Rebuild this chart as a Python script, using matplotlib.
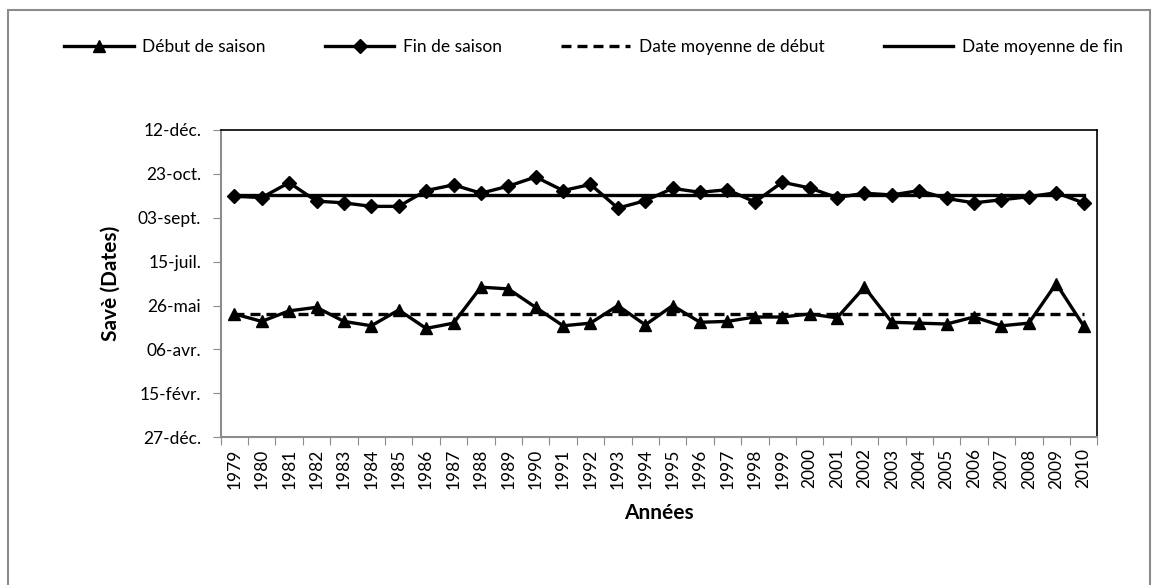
import numpy as np
import matplotlib.pyplot as plt
from matplotlib.patches import Rectangle

# years on the x axis
annees = [str(a) for a in range(1979, 2011)]

# dates as day of year (1 = 1 janv.)
debut = [136.5, 128, 140, 144, 128, 123, 141, 120, 126, 167, 165, 144,
         123, 126, 146, 124, 146, 127, 128, 133, 133, 136.5, 132, 167,
         127, 126, 125, 133, 123, 126, 171, 123]
fin = [270.5, 269, 286, 265, 263, 259, 259, 277, 283.5, 274, 282, 292.5,
       277, 284, 257, 265.5, 279.5, 275, 278, 264, 286.5, 280, 269, 274,
       272, 277, 268, 263, 266.5, 270, 274.5, 263]
moy_debut = 136.5
moy_fin = 272

# y ticks every 50 days, from 27-déc. to 12-déc.
y_ticks = [-4, 46, 96, 146, 196, 246, 296, 346]
y_labels = ["27-déc.", "15-févr.", "06-avr.", "26-mai", "15-juil.",
            "03-sept.", "23-oct.", "12-déc."]

plt.rcParams["font.family"] = ["Lato", "DejaVu Sans"]

fig = plt.figure(figsize=(11.57, 5.85), dpi=100)
ax = fig.add_axes([0.1907, 0.2525, 0.7577, 0.5253])

x = np.arange(len(annees))

l1, = ax.plot(x, debut, color="black", lw=2.4, marker="^", ms=9,
              label="Début de saison")
l2, = ax.plot(x, fin, color="black", lw=2.4, marker="D", ms=7,
              label="Fin de saison")
l3, = ax.plot([x[0], x[-1]], [moy_debut, moy_debut], color="black", lw=2.4,
              dashes=(3, 1.8), label="Date moyenne de début")
l4, = ax.plot([x[0], x[-1]], [moy_fin, moy_fin], color="black", lw=2.4,
              label="Date moyenne de fin")

ax.set_xlim(-0.5, len(annees) - 0.5)
ax.set_ylim(-4, 346)
ax.set_yticks(y_ticks)
ax.set_yticklabels(y_labels)

# category ticks sit between years, labels at the centres
ax.set_xticks(np.arange(-0.5, len(annees), 1.0))
ax.set_xticklabels([])
ax.set_xticks(x, minor=True)
ax.set_xticklabels(annees, minor=True, rotation=90)

ax.tick_params(axis="y", which="major", direction="out", length=6,
               color="#8c8c8c", labelsize=12.5, pad=8)
ax.tick_params(axis="x", which="major", direction="out", length=6,
               color="#8c8c8c")
ax.tick_params(axis="x", which="minor", length=0, labelsize=12.5, pad=8)

for s in ["left", "bottom"]:
    ax.spines[s].set_color("#8c8c8c")
    ax.spines[s].set_linewidth(1.5)
for s in ["top", "right"]:
    ax.spines[s].set_color("black")
    ax.spines[s].set_linewidth(1.2)

ax.set_ylabel("Savè (Dates)", fontsize=15, fontweight="bold", labelpad=12)
ax.set_xlabel("Années", fontsize=15, fontweight="bold", labelpad=10)

fig.legend(handles=[l1, l2, l3, l4], loc="center", ncol=4,
           bbox_to_anchor=(0.513, 1 - 47 / 585), frameon=False,
           fontsize=12.5, handlelength=4.0, handletextpad=0.5,
           columnspacing=3.4)

# outer chart frame
fig.patches.append(Rectangle((8 / 1157, -0.02), (1150 - 8) / 1157,
                             1.02 - 10 / 585, transform=fig.transFigure,
                             fill=False, edgecolor="#8c8c8c", lw=1.5))

fig.savefig("out.png", dpi=100)
